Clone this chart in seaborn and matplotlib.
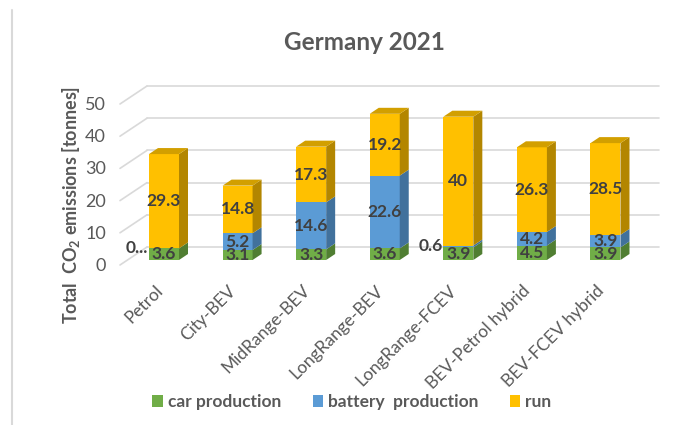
import numpy as np
import pandas as pd
import matplotlib
matplotlib.use("Agg")
import matplotlib.pyplot as plt
from matplotlib.patches import Polygon, Patch
from matplotlib.lines import Line2D
import seaborn as sns

# ---- data -------------------------------------------------------------
vehicles = ["Petrol", "City-BEV", "MidRange-BEV", "LongRange-BEV",
            "LongRange-FCEV", "BEV-Petrol hybrid", "BEV-FCEV hybrid"]
car_production = [3.6, 3.1, 3.3, 3.6, 3.9, 4.5, 3.9]
battery_production = [0.0, 5.2, 14.6, 22.6, 0.6, 4.2, 3.9]
run = [29.3, 14.8, 17.3, 19.2, 40.0, 26.3, 28.5]
components = ["car production", "battery  production", "run"]
yticks = [0, 10, 20, 30, 40, 50]
title = "Germany 2021"
ylabel = "Total  CO$_\\mathbf{2}$ emissions [tonnes]"

# ---- style ------------------------------------------------------------
sns.set_theme(style="white")
plt.rcParams["font.family"] = ["Lato", "DejaVu Sans"]
plt.rcParams["mathtext.fontset"] = "custom"
plt.rcParams["mathtext.rm"] = "Lato:bold"
plt.rcParams["mathtext.bf"] = "Lato:bold"

front = {"car production": "#70AD47", "battery  production": "#5B9BD5", "run": "#FFC000"}
side = {"car production": "#507E32", "battery  production": "#41719C", "run": "#B38600"}
top_face = "#D29F00"
grid_c = "#D9D9D9"
txt_dark = "#404040"
txt_grey = "#595959"

# ---- geometry (pixel scale of the 3-D box) ---------------------------
W, H = 700, 425
px_x, px_y = 73.58, 3.22           # pixels per category / per tonne
x0_px, y0_px = 164, 260            # first bar centre, front-face baseline
ax_l, ax_r, ax_t, ax_b = 110, 670, 75, 275
bar_w = 30 / px_x
ddx, ddy = 9 / px_x, 6 / px_y      # bar depth
back_dy = 13 / px_y                # back wall offset
front_dy = -5 / px_y               # floor front edge offset
xf0 = (120 - x0_px) / px_x
xb0 = (147 - x0_px) / px_x
xb1 = (659 - x0_px) / px_x

fig = plt.figure(figsize=(W / 100, H / 100), dpi=100)
ax = fig.add_axes([ax_l / W, 1 - ax_b / H, (ax_r - ax_l) / W, (ax_b - ax_t) / H])

# ---- stacked values ---------------------------------------------------
car = np.array(car_production)
bat = np.array(battery_production)
rn = np.array(run)
bottoms = [np.zeros_like(car), car, car + bat]
tops = [car, car + bat, car + bat + rn]
values = [car, bat, rn]

rows = []
for comp, tp in zip(components, tops):
    for v, t in zip(vehicles, tp):
        rows.append({"vehicle": v, "component": comp, "top": t})
df = pd.DataFrame(rows)

# tallest layer first so shorter layers sit in front of it
sns.barplot(data=df, x="vehicle", y="top", hue="component", order=vehicles,
            hue_order=components[::-1], palette=front, dodge=False,
            width=bar_w, saturation=1, linewidth=0, legend=False,
            ax=ax, zorder=3)

# ---- back wall and side wall gridlines --------------------------------
for v in yticks:
    ax.plot([xb0, xb1], [v + back_dy, v + back_dy], color=grid_c, lw=1.2, zorder=1)
    ax.plot([xf0, xb0], [v + front_dy, v + back_dy], color=grid_c, lw=1.2, zorder=1)

# ---- 3-D side and top faces -------------------------------------------
hw = bar_w / 2
for i in range(len(vehicles)):
    for k, comp in enumerate(components):
        b, t = bottoms[k][i], tops[k][i]
        if t - b > 0:
            ax.add_patch(Polygon([(i + hw, b), (i + hw + ddx, b + ddy),
                                  (i + hw + ddx, t + ddy), (i + hw, t)],
                                 closed=True, facecolor=side[comp], lw=0, zorder=3))
    T = tops[-1][i]
    ax.add_patch(Polygon([(i - hw, T), (i + hw, T), (i + hw + ddx, T + ddy),
                          (i - hw + ddx, T + ddy)],
                         closed=True, facecolor=top_face, lw=0, zorder=3))

# ---- data labels ------------------------------------------------------
for i in range(len(vehicles)):
    for k in range(3):
        v = values[k][i]
        mid = bottoms[k][i] + v / 2
        if v < 1:
            lbl = "0..." if v == 0 else f"{v:g}"
            ax.text(i - hw - 0.01, mid, lbl, ha="right", va="center",
                    fontsize=12.5, fontweight="bold", color=txt_dark, zorder=5)
        else:
            ax.text(i, mid, f"{v:g}", ha="center", va="center",
                    fontsize=12.5, fontweight="bold", color=txt_dark, zorder=5)

# ---- axes cosmetics ---------------------------------------------------
ax.set_xlim((ax_l - x0_px) / px_x, (ax_r - x0_px) / px_x)
ax.set_ylim((y0_px - ax_b) / px_y, (y0_px - ax_t) / px_y)
ax.set_xticks([])
ax.set_yticks([])
ax.set_xlabel("")
ax.set_ylabel("")
for s in ax.spines.values():
    s.set_visible(False)
ax.patch.set_alpha(0)

for v in yticks:
    ax.text((106 - x0_px) / px_x, v - 6 / px_y, f"{v}", ha="right", va="center",
            fontsize=13, color=txt_grey, clip_on=False)

for i, name in enumerate(vehicles):
    ax.text(i - 4 / px_x, (y0_px - 288) / px_y, name, rotation=45,
            rotation_mode="anchor", ha="right", va="center",
            fontsize=12.5, color=txt_grey, clip_on=False)

fig.text(364 / W, 1 - 43 / H, title, ha="center", va="center",
         fontsize=17.5, fontweight="bold", color=txt_grey)
fig.text(71 / W, 1 - 205 / H, ylabel, rotation=90, ha="center", va="center",
         fontsize=13, fontweight="bold", color=txt_grey)

handles = [Patch(facecolor=front[c], edgecolor="none") for c in components]
fig.legend(handles, components, loc="center", bbox_to_anchor=(352 / W, 1 - 402 / H),
           ncol=3, frameon=False, handlelength=0.6, handleheight=0.7,
           handletextpad=0.3, columnspacing=1.8,
           prop={"size": 12.5, "weight": "bold"}, labelcolor=txt_grey)

# thin frame line on the left edge
fig.add_artist(Line2D([12 / W, 12 / W], [0, 1 - 10 / H], color="#D9D9D9", lw=1.5))

fig.savefig("out.png", dpi=100)
